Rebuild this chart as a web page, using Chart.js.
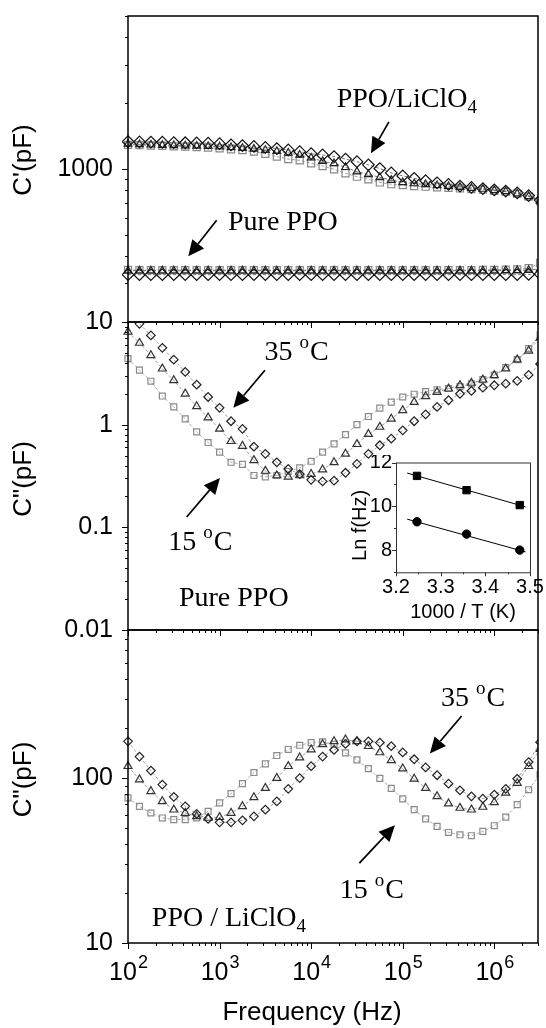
<!DOCTYPE html>
<html>
<head>
<meta charset="utf-8">
<script src="https://cdn.jsdelivr.net/npm/chart.js@4.4.1/dist/chart.umd.min.js"></script>
<style>
  body { margin: 0; background: #fff; }
  #wrap { position: relative; width: 546px; height: 1028px; }
  #main { position: absolute; left: 0; top: 0; }
  #inset { position: absolute; left: 330px; top: 455px; }
</style>
</head>
<body>
<div id="wrap">
  <canvas id="main" width="546" height="1028"></canvas>
  <canvas id="inset" width="216" height="170"></canvas>
</div>
<script>
// frequency points (Hz), 8 per decade
var freqHz = [100, 133.4, 177.8, 237.1, 316.2, 421.7, 562.3, 749.9, 1000, 1334,
  1778, 2371, 3162, 4217, 5623, 7499, 10000, 13335, 17783, 23714,
  31623, 42170, 56234, 74989, 100000, 133352, 177828, 237137, 316228, 421697,
  562341, 749894, 1000000, 1333521, 1778279, 2371374, 3162278];

// top panel: C' (pF)
var cpLi15 = [1290, 1285, 1280, 1275, 1270, 1265, 1260, 1252, 1242, 1230,
  1220, 1200, 1172, 1139, 1110, 1095, 1062, 1032, 997, 956,
  922, 897, 868, 852, 845, 836, 830, 825, 820, 815,
  810, 804, 795, 787, 770, 748, 712];
var cpLi25 = [1300, 1295, 1290, 1285, 1282, 1278, 1275, 1270, 1265, 1255,
  1245, 1235, 1220, 1205, 1185, 1160, 1125, 1085, 1060, 1018,
  972, 945, 916, 890, 869, 858, 850, 842, 834, 826,
  818, 810, 798, 790, 772, 750, 715];
var cpLi35 = [1335, 1330, 1328, 1325, 1320, 1318, 1315, 1312, 1305, 1290,
  1280, 1268, 1255, 1240, 1222, 1200, 1175, 1160, 1140, 1110,
  1080, 1045, 1005, 960, 930, 907, 884, 865, 850, 836,
  824, 814, 802, 793, 778, 756, 721];
var cpPure15 = [346, 345, 345, 345, 345, 345, 345, 345, 345, 345,
  345, 345, 345, 345, 345, 345, 345, 345, 345, 345,
  345, 345, 345, 345, 345, 345, 345, 345, 345, 345,
  345, 346, 346, 347, 348, 352, 372];
var cpPure25 = [343, 343, 343, 343, 343, 343, 343, 343, 343, 343,
  343, 343, 343, 343, 343, 343, 343, 343, 343, 343,
  343, 343, 343, 343, 343, 343, 343, 343, 343, 343,
  343, 343, 343, 344, 344, 345, 350];
var cpPure35 = [329, 329, 329, 329, 329, 329, 329, 329, 329, 329,
  329, 329, 329, 329, 329, 329, 329, 329, 329, 329,
  329, 329, 329, 329, 329, 329, 329, 329, 329, 329,
  329, 329, 329, 329, 329, 330, 331];

// middle panel: C'' (pF), pure PPO
var cppPure15 = [4.4, 3.4, 2.65, 1.9, 1.49, 1.14, 0.85, 0.67, 0.54, 0.43,
  0.41, 0.32, 0.31, 0.32, 0.35, 0.38, 0.44, 0.54, 0.65, 0.8,
  1.0, 1.2, 1.45, 1.66, 1.86, 1.98, 2.1, 2.19, 2.25, 2.35,
  2.5, 2.75, 3.05, 3.6, 4.3, 5.5, 7.5];
var cppPure25 = [8.0, 6.25, 4.74, 3.51, 2.7, 2.0, 1.51, 1.17, 0.91, 0.69,
  0.62, 0.45, 0.354, 0.32, 0.31, 0.32, 0.33, 0.365, 0.43, 0.52,
  0.645, 0.81, 0.95, 1.14, 1.38, 1.66, 1.89, 2.08, 2.24, 2.42,
  2.55, 2.74, 3.03, 3.51, 4.3, 5.25, 7.0];
var cppPure35 = [12, 9.6, 7.4, 5.6, 4.3, 3.26, 2.45, 1.86, 1.46, 1.08,
  0.91, 0.61, 0.52, 0.43, 0.37, 0.33, 0.29, 0.28, 0.285, 0.34,
  0.415, 0.52, 0.63, 0.73, 0.88, 1.08, 1.26, 1.49, 1.73, 2.0,
  2.13, 2.29, 2.42, 2.51, 2.67, 3.05, 3.9];

// bottom panel: C'' (pF), PPO / LiClO4
var cppLi15 = [75.8, 67.4, 61.4, 57.3, 56, 56, 57.3, 62.9, 70.7, 80.5,
  92.5, 108, 122, 137, 149, 158, 164, 166, 160, 142,
  129, 114, 99.5, 86.6, 74.8, 64.3, 56.6, 50.9, 46.8, 45.3,
  44.7, 47.5, 51.4, 58, 69, 85, 105];
var cppLi25 = [118, 98, 83.2, 72.2, 64.3, 61.4, 58.6, 57.3, 57.9, 61.4,
  67.4, 76.4, 87, 100, 118, 133, 149, 160, 167, 171,
  167, 156, 143, 128, 114, 99, 87, 77.5, 70, 65.9,
  64.3, 66.8, 71.3, 81.3, 93.3, 118, 150];
var cppLi35 = [167, 135, 111, 91.3, 76.9, 67.4, 60.6, 56.5, 53.9, 53.9,
  55.4, 58.6, 64.3, 72.2, 86, 100, 118, 135, 148, 161,
  167, 167, 164, 156, 143, 130, 116, 104, 92.5, 84.3,
  77.5, 75, 79.4, 86, 99, 125, 165];

// inset: Ln f vs 1000/T
var invT = [3.247, 3.358, 3.477];
var lnfUpper = [11.39, 10.74, 10.06];
var lnfLower = [9.30, 8.74, 8.01];
var fitT = [3.225, 3.49];
var fitUpper = [11.52, 9.98];
var fitLower = [9.42, 7.93];

// tick labels
var xTickPowers = [2, 3, 4, 5, 6];
var insetXLabels = [3.2, 3.3, 3.4, 3.5];
var insetYLabels = [8, 10, 12];

var SANS = '"Liberation Sans", Arial, sans-serif';
var SERIF = '"Liberation Serif", "Times New Roman", serif';

var panels = [
  {id: 'y1', title: "C'(pF)", dy: -9, topTicks: false, labels: [[1000, '1000']]},
  {id: 'y2', title: 'C"(pF)', dy: 3, topTicks: true, labels: [[10, '10'], [1, '1'], [0.1, '0.1'], [0.01, '0.01']]},
  {id: 'y3', title: 'C"(pF)', dy: -7, topTicks: true, labels: [[100, '100'], [10, '10']]}
];

// text notes and arrows, placed in data coordinates [Hz, pF]
var notes = [
  {axis: 'y1', at: [19000, 1919], runs: [['PPO/LiClO', 0], ['4', -1]]},
  {axis: 'y1', at: [1236, 525], runs: [['Pure PPO', 0]]},
  {axis: 'y2', at: [3100, 4.24], runs: [['35 ', 0], ['o', 1], ['C', 0]]},
  {axis: 'y2', at: [275, 0.0599], runs: [['15 ', 0], ['o', 1], ['C', 0]]},
  {axis: 'y2', at: [360, 0.0172], runs: [['Pure PPO', 0]]},
  {axis: 'y3', at: [262000, 273], runs: [['35 ', 0], ['o', 1], ['C', 0]]},
  {axis: 'y3', at: [20500, 18.7], runs: [['15 ', 0], ['o', 1], ['C', 0]]},
  {axis: 'y3', at: [182, 12.7], runs: [['PPO / LiClO', 0], ['4', -1]]}
];
var arrows = [
  {axis: 'y1', from: [70600, 1643], to: [45000, 1180]},
  {axis: 'y1', from: [929, 583], to: [455, 399]},
  {axis: 'y2', from: [3130, 3.39], to: [1413, 1.46]},
  {axis: 'y2', from: [437, 0.126], to: [1009, 0.303]},
  {axis: 'y3', from: [440000, 238], to: [198000, 141]},
  {axis: 'y3', from: [33600, 30.5], to: [82200, 51.8]}
];

function logTicks(min, max) {
  var out = [];
  for (var e = Math.floor(Math.log10(min)); e <= Math.ceil(Math.log10(max)); e++) {
    for (var k = 1; k < 10; k++) {
      var v = k * Math.pow(10, e);
      if (v >= min * 0.999 && v <= max * 1.001) out.push({v: v, major: k === 1});
    }
  }
  return out;
}

function drawArrow(ctx, x1, y1, x2, y2) {
  var ang = Math.atan2(y2 - y1, x2 - x1), L = 16, W = 7.5;
  var bx = x2 - L * Math.cos(ang), by = y2 - L * Math.sin(ang);
  ctx.lineWidth = 1.7;
  ctx.beginPath();
  ctx.moveTo(x1, y1);
  ctx.lineTo(bx, by);
  ctx.stroke();
  ctx.beginPath();
  ctx.moveTo(x2, y2);
  ctx.lineTo(bx + W * Math.sin(ang), by - W * Math.cos(ang));
  ctx.lineTo(bx - W * Math.sin(ang), by + W * Math.cos(ang));
  ctx.closePath();
  ctx.fill();
}

function drawRuns(ctx, runs, x, y) {
  ctx.textAlign = 'left';
  ctx.textBaseline = 'alphabetic';
  runs.forEach(function (r) {
    ctx.font = (r[1] ? '19px ' : '28px ') + SERIF;
    var dy = r[1] === 1 ? -12 : (r[1] === -1 ? 6 : 0);
    ctx.fillText(r[0], x, y + dy);
    x += ctx.measureText(r[0]).width + (r[1] === 1 ? 1 : 0);
  });
}

var decor = {
  id: 'decor',
  afterDatasetsDraw: function (chart) {
    var ctx = chart.ctx, area = chart.chartArea, xs = chart.scales.x;
    var xt = logTicks(xs.min, xs.max);
    ctx.save();
    ctx.strokeStyle = '#000';
    ctx.fillStyle = '#000';
    panels.forEach(function (p) {
      var s = chart.scales[p.id];
      ctx.lineWidth = 1.5;
      ctx.strokeRect(area.left, s.top, area.right - area.left, s.bottom - s.top);
      ctx.lineWidth = 1;
      ctx.beginPath();
      logTicks(s.min, s.max).forEach(function (t) {
        var y = Math.round(s.getPixelForValue(t.v)) + 0.5;
        ctx.moveTo(area.left, y);
        ctx.lineTo(area.left - (t.major ? 6 : 3), y);
      });
      if (p.topTicks) {
        xt.forEach(function (t) {
          var x = Math.round(xs.getPixelForValue(t.v)) + 0.5;
          ctx.moveTo(x, s.top);
          ctx.lineTo(x, s.top + (t.major ? 6 : 3));
        });
      }
      ctx.stroke();
      ctx.font = '25px ' + SANS;
      ctx.textAlign = 'right';
      ctx.textBaseline = 'middle';
      p.labels.forEach(function (l) {
        ctx.fillText(l[1], area.left - 15, s.getPixelForValue(l[0]));
      });
      ctx.save();
      ctx.translate(24, (s.top + s.bottom) / 2 + p.dy);
      ctx.rotate(-Math.PI / 2);
      ctx.font = '26px ' + SANS;
      ctx.textAlign = 'center';
      ctx.fillText(p.title, 0, 0);
      ctx.restore();
    });
    // bottom axis ticks and labels
    ctx.lineWidth = 1;
    ctx.beginPath();
    xt.forEach(function (t) {
      var x = Math.round(xs.getPixelForValue(t.v)) + 0.5;
      ctx.moveTo(x, area.bottom);
      ctx.lineTo(x, area.bottom + (t.major ? 6 : 3));
    });
    ctx.stroke();
    ctx.textBaseline = 'alphabetic';
    ctx.textAlign = 'left';
    xTickPowers.forEach(function (n) {
      var x = xs.getPixelForValue(Math.pow(10, n));
      ctx.font = '25px ' + SANS;
      var w1 = ctx.measureText('10').width;
      ctx.font = '18px ' + SANS;
      var w2 = ctx.measureText(String(n)).width;
      var x0 = x - (w1 + w2) / 2;
      ctx.font = '25px ' + SANS;
      ctx.fillText('10', x0, 980);
      ctx.font = '18px ' + SANS;
      ctx.fillText(String(n), x0 + w1 + 1, 968);
    });
    ctx.font = '26px ' + SANS;
    ctx.textAlign = 'center';
    ctx.fillText('Frequency (Hz)', 312, 1020);
    // notes and arrows
    notes.forEach(function (nt) {
      var ys = chart.scales[nt.axis];
      drawRuns(ctx, nt.runs, xs.getPixelForValue(nt.at[0]), ys.getPixelForValue(nt.at[1]));
    });
    arrows.forEach(function (ar) {
      var ys = chart.scales[ar.axis];
      drawArrow(ctx, xs.getPixelForValue(ar.from[0]), ys.getPixelForValue(ar.from[1]),
        xs.getPixelForValue(ar.to[0]), ys.getPixelForValue(ar.to[1]));
    });
    ctx.restore();
  }
};

function series(vals, axis, style, r, color, lineColor) {
  return {
    data: freqHz.map(function (f, i) { return {x: f, y: vals[i]}; }),
    yAxisID: axis,
    showLine: true,
    borderColor: lineColor,
    borderWidth: 0.8,
    borderDash: [3, 2],
    pointStyle: style,
    pointRadius: r,
    pointBorderColor: color,
    pointBackgroundColor: 'rgba(0,0,0,0)',
    pointBorderWidth: 1.2,
    clip: {left: 6, right: 0, top: 0, bottom: 0}
  };
}

var hidden = {
  ticks: {display: false},
  grid: {display: false},
  border: {display: false}
};

new Chart(document.getElementById('main'), {
  type: 'scatter',
  data: {
    datasets: [
      series(cpLi35, 'y1', 'rectRot', 5.8, '#111', '#555'),
      series(cpLi25, 'y1', 'triangle', 4.4, '#222', '#555'),
      series(cpLi15, 'y1', 'rect', 5, '#888', '#888'),
      series(cpPure35, 'y1', 'rectRot', 5.8, '#111', '#555'),
      series(cpPure25, 'y1', 'triangle', 4.4, '#222', '#555'),
      series(cpPure15, 'y1', 'rect', 5, '#888', '#888'),
      series(cppPure35, 'y2', 'rectRot', 4.3, '#222', '#888'),
      series(cppPure25, 'y2', 'triangle', 4.6, '#333', '#888'),
      series(cppPure15, 'y2', 'rect', 4.2, '#8a8a8a', '#999'),
      series(cppLi35, 'y3', 'rectRot', 4.3, '#222', '#888'),
      series(cppLi25, 'y3', 'triangle', 4.6, '#333', '#888'),
      series(cppLi15, 'y3', 'rect', 4.2, '#8a8a8a', '#999')
    ]
  },
  options: {
    responsive: false,
    animation: false,
    events: [],
    layout: {padding: {top: 16, right: 8, left: 0, bottom: 0}},
    plugins: {legend: {display: false}, tooltip: {enabled: false}},
    scales: {
      x: Object.assign({type: 'logarithmic', position: 'bottom', min: 100, max: 3e6,
        afterFit: function (s) { s.height = 85; }}, hidden),
      y3: Object.assign({type: 'logarithmic', position: 'left', stack: 'panels', stackWeight: 313,
        min: 10, max: 790, afterFit: function (s) { s.width = 128; }}, hidden),
      y2: Object.assign({type: 'logarithmic', position: 'left', stack: 'panels', stackWeight: 308,
        min: 0.01, max: 10, afterFit: function (s) { s.width = 128; }}, hidden),
      y1: Object.assign({type: 'logarithmic', position: 'left', stack: 'panels', stackWeight: 306,
        min: 200, max: 5000, afterFit: function (s) { s.width = 128; }}, hidden)
    }
  },
  plugins: [decor]
});

var insetDecor = {
  id: 'insetDecor',
  afterDatasetsDraw: function (chart) {
    var ctx = chart.ctx, a = chart.chartArea, xs = chart.scales.x, ys = chart.scales.y;
    ctx.save();
    ctx.strokeStyle = '#333';
    ctx.fillStyle = '#000';
    ctx.lineWidth = 1;
    ctx.strokeRect(a.left + 0.5, a.top + 0.5, a.right - a.left, a.bottom - a.top);
    ctx.beginPath();
    [3.2, 3.25, 3.3, 3.35, 3.4, 3.45, 3.5].forEach(function (v, i) {
      var x = Math.round(xs.getPixelForValue(v)) + 0.5;
      ctx.moveTo(x, a.bottom);
      ctx.lineTo(x, a.bottom + (i % 2 ? 2 : 4));
    });
    [7, 8, 9, 10, 11, 12].forEach(function (v) {
      var y = Math.round(ys.getPixelForValue(v)) + 0.5;
      ctx.moveTo(a.left, y);
      ctx.lineTo(a.left - (v % 2 ? 2 : 4), y);
    });
    ctx.stroke();
    ctx.font = '20px ' + SANS;
    ctx.textAlign = 'center';
    ctx.textBaseline = 'middle';
    insetXLabels.forEach(function (v) {
      ctx.fillText(v.toFixed(1), xs.getPixelForValue(v), a.bottom + 15);
    });
    ctx.textAlign = 'right';
    insetYLabels.forEach(function (v) {
      ctx.fillText(String(v), a.left - 4, ys.getPixelForValue(v));
    });
    ctx.font = '20px ' + SANS;
    ctx.textAlign = 'center';
    ctx.fillText('1000 / T (K)', (a.left + a.right) / 2, a.bottom + 40);
    ctx.save();
    ctx.translate(a.left - 36, (a.top + a.bottom) / 2 + 8);
    ctx.rotate(-Math.PI / 2);
    ctx.fillText('Ln f(Hz)', 0, 0);
    ctx.restore();
    ctx.restore();
  }
};

function pts(xv, yv) {
  return xv.map(function (x, i) { return {x: x, y: yv[i]}; });
}

new Chart(document.getElementById('inset'), {
  type: 'scatter',
  data: {
    datasets: [
      {data: pts(invT, lnfUpper), pointStyle: 'rect', pointRadius: 5.2, backgroundColor: '#000', borderColor: '#000'},
      {data: pts(invT, lnfLower), pointStyle: 'circle', pointRadius: 4.2, backgroundColor: '#000', borderColor: '#000'},
      {data: pts(fitT, fitUpper), showLine: true, pointRadius: 0, borderColor: '#000', borderWidth: 1},
      {data: pts(fitT, fitLower), showLine: true, pointRadius: 0, borderColor: '#000', borderWidth: 1}
    ]
  },
  options: {
    responsive: false,
    animation: false,
    events: [],
    layout: {padding: {top: 7.5, right: 16, left: 0, bottom: 0}},
    plugins: {legend: {display: false}, tooltip: {enabled: false}},
    scales: {
      x: Object.assign({type: 'linear', min: 3.2, max: 3.5,
        afterFit: function (s) { s.height = 52.7; }}, hidden),
      y: Object.assign({type: 'linear', min: 7, max: 12,
        afterFit: function (s) { s.width = 66; }}, hidden)
    }
  },
  plugins: [insetDecor]
});
</script>
</body>
</html>
